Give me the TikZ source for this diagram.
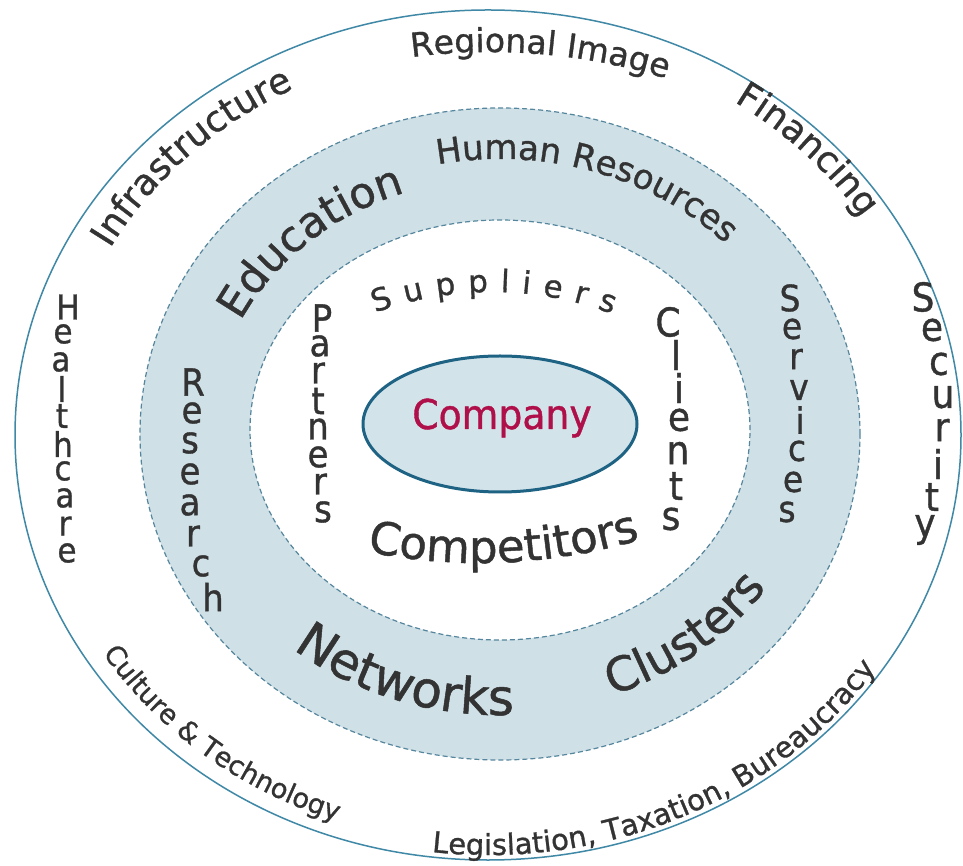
\documentclass[tikz,border=0pt]{standalone}
\usepackage{fontspec}
\setmainfont{DejaVu Sans}[FakeBold=1]
\usetikzlibrary{decorations.text,shapes.geometric}
\definecolor{txt}{HTML}{333333}
\definecolor{comp}{HTML}{B0104A}
\definecolor{ringfill}{HTML}{CFE0E7}
\definecolor{dashc}{HTML}{55869D}
\definecolor{outerc}{HTML}{3F88A6}
\definecolor{compline}{HTML}{1E6384}
\definecolor{compfill}{HTML}{D3E3EA}
\newcommand\fsz[1]{\fontsize{#1}{#1}\selectfont}
\begin{document}
\begin{tikzpicture}[x=1pt,y=1pt,
  ctext/.style={decorate, decoration={text along path, text color=txt, text align=center, text={#1}}},
  ftext/.style={decorate, decoration={text along path, text color=txt, text align={fit to path}, text={#1}}},
  stk/.style={inner sep=0pt, text=txt, anchor=center, yscale=1.1},
  dashring/.style={draw=dashc, line width=1.2pt, dash pattern=on 5pt off 3pt},
]
\fill[white] (0,0) rectangle (963,865);
\useasboundingbox (0,0) rectangle (963,865);

% outer circle
\draw[outerc, line width=1.5pt] (488,430) ellipse[x radius=473, y radius=425];

% shaded ring
\fill[ringfill, even odd rule] (500,431) ellipse[x radius=360, y radius=326]
                               (500,435) ellipse[x radius=250, y radius=210];
\draw[dashring] (500,431) ellipse[x radius=360, y radius=326];
\draw[dashring] (500,435) ellipse[x radius=250, y radius=210];

% company
\node[ellipse, draw=compline, fill=compfill, line width=3pt, minimum width=274pt, minimum height=136pt, inner sep=0pt] (company) at (500,441) {};
\node[text=comp, font=\fsz{41}, anchor=base, xscale=0.92, inner sep=0pt] (companylabel) at (502,436) {Company};

% outer ring curved texts
\path[ctext={|\fsz{33}|Regional Image}] (490,213) ++(105.2:600) arc[start angle=105.2, end angle=65.2, radius=600];
\path[ctext={|\fsz{36}|Infrastructure}] (488,430) ++(164.5:431 and 388) arc[start angle=164.5, end angle=104.5, x radius=431, y radius=388];
\path[ctext={|\fsz{36}|Financing}] (488,430) ++(74:445 and 400) arc[start angle=74, end angle=14, x radius=445, y radius=400];
\path[ctext={|\fsz{27}|Culture {\&} Technology}] (488,430) ++(201:455.5 and 409.3) arc[start angle=201, end angle=261, x radius=455.5, y radius=409.3];
\path[ctext={|\fsz{29}|Legislation{,} Taxation{,} Bureaucracy}] (488,430) ++(254:467 and 420) arc[start angle=254, end angle=336, x radius=467, y radius=420];

% middle ring curved texts
\path[ctext={|\fsz{43}|Education}] (500,433) ++(162:288.5 and 253.5) arc[start angle=162, end angle=102, x radius=288.5, y radius=253.5];
\path[ctext={|\fsz{34}|Human Resources}] (500,433) ++(117:311 and 273) arc[start angle=117, end angle=27, x radius=311, y radius=273];
\path[ctext={|\fsz{50}|Networks}] (500,433) ++(221:322 and 283) arc[start angle=221, end angle=281, x radius=322, y radius=283];
\path[ctext={|\fsz{47}|Clusters}] (500,433) ++(279:320 and 281) arc[start angle=279, end angle=339, x radius=320, y radius=281];

% inner curved texts
\path[ftext={|\fsz{31}|Suppliers}] (492,233) ++(110.1:340) arc[start angle=110.1, end angle=69.3, radius=340];
\path[ctext={|\fsz{45}|Competitors}] (480,862) ++(251:560) arc[start angle=251, end angle=294, radius=560];

% stacked texts
\foreach \l/\px/\py [count=\i] in {H/68/307, e/63/334, a/61/362, l/62/389, t/62/416, h/63/444, c/63/471, a/65/498, r/65/526, e/67/553}
  \node[stk, font=\fsz{31}] (health\i) at (\px,865-\py) {\l};
\foreach \l/\px/\py [count=\i] in {R/193/382, e/192/413, s/190/443, e/190/474, a/190/505, r/193/536, c/201/566, h/213/597}
  \node[stk, font=\fsz{34}] (research\i) at (\px,865-\py) {\l};
\foreach \l/\px/\py [count=\i] in {P/322/318, a/320/346, r/318/373, t/318/401, n/318/429, e/318/457, r/320/484, s/323/512}
  \node[stk, font=\fsz{34}] (partners\i) at (\px,865-\py) {\l};
\foreach \l/\px/\py [count=\i] in {C/668/322, l/676/355, i/679/388, e/679/420, n/678/453, t/676/486, s/671/519}
  \node[stk, font=\fsz{36}] (clients\i) at (\px,865-\py) {\l};
\foreach \l/\px/\py [count=\i] in {S/790/298, e/792/329, r/796/359, v/799/390, i/800/420, c/797/451, e/793/482, s/787/512}
  \node[stk, font=\fsz{33}] (services\i) at (\px,865-\py) {\l};
\foreach \l/\px/\py [count=\i] in {S/923/297, e/932/330, c/939/364, u/943/397, r/942/430, i/938/464, t/932/497, y/925/530}
  \node[stk, font=\fsz{36}] (security\i) at (\px,865-\py) {\l};
\end{tikzpicture}
\end{document}
